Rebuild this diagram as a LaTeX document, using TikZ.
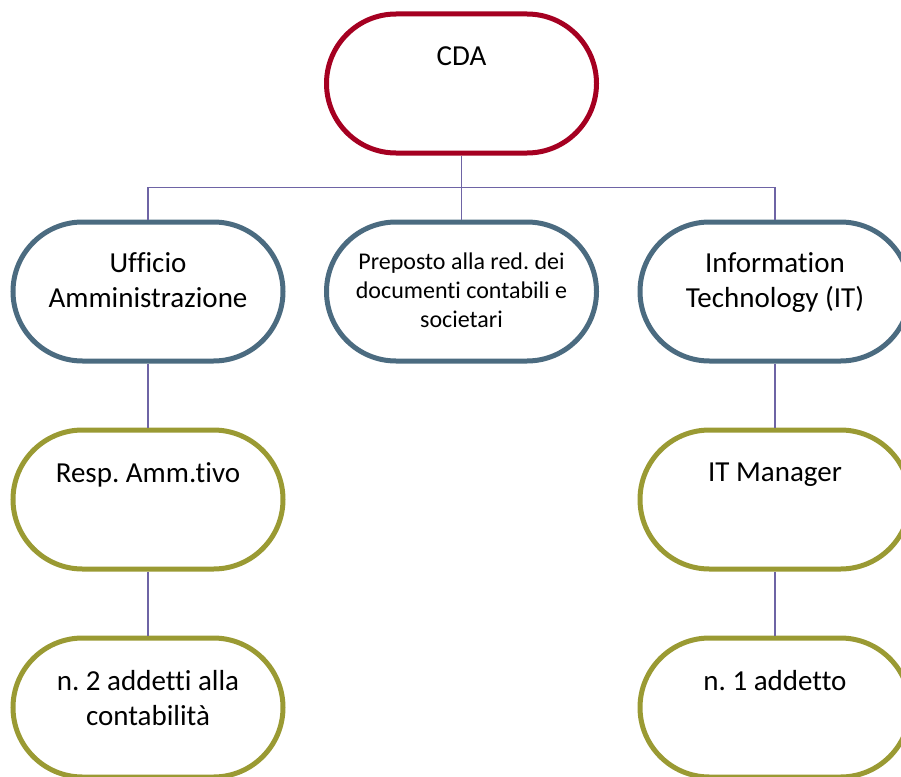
\documentclass[tikz,border=0pt]{standalone}
\usepackage{fontspec}
\setmainfont[Ligatures=NoCommon]{Carlito}
\frenchspacing
\usetikzlibrary{shapes.misc, positioning, calc}
\definecolor{cdared}{RGB}{165,0,33}
\definecolor{unitblue}{RGB}{75,107,128}
\definecolor{staffolive}{RGB}{154,154,51}
\definecolor{connviolet}{RGB}{110,100,165}
\tikzset{
  basebox/.style={rounded rectangle,line width=5pt,fill=white,minimum width=270pt,minimum height=139pt,inner sep=0pt},
  topbox/.style={basebox,draw=cdared},
  unitbox/.style={basebox,draw=unitblue},
  staffbox/.style={basebox,draw=staffolive},
  lbl/.style={anchor=north,inner sep=0pt,align=center,font=\fontsize{29}{35}\selectfont},
  smalllbl/.style={lbl,font=\fontsize{24}{29}\selectfont},
  conn/.style={line width=1.6pt,color=connviolet}
}
\begin{document}
\begin{tikzpicture}[x=1pt,y=1pt,node distance=64pt]
  \useasboundingbox (0,0) rectangle (901,-776);
  % boxes
  \node[topbox] (cda) at (461.5,-83.5) {};
  \node[unitbox,below=of cda] (mid) {};
  \node[unitbox,left=38.5pt of mid] (adm) {};
  \node[unitbox,right=38.5pt of mid] (it) {};
  \node[staffbox,below=of adm] (resp) {};
  \node[staffbox,below=of it] (itm) {};
  \node[staffbox,below=of resp] (contab) {};
  \node[staffbox,below=of itm] (addetto) {};

  % texts
  \node[lbl,below=35pt of cda.north] (cdatxt) {CDA};
  \node[lbl,below=33pt of adm.north] (admtxt) {Ufficio\\Amministrazione};
  \node[smalllbl,below=33pt of mid.north] (midtxt) {Preposto alla red. dei\\documenti contabili e\\societari};
  \node[lbl,below=33pt of it.north] (ittxt) {Information\\Technology (IT)};
  \node[lbl,below=35pt of resp.north] (resptxt) {Resp. Amm.tivo};
  \node[lbl,below=35pt of itm.north] (itmtxt) {IT Manager};
  \node[lbl,below=35pt of contab.north] (contabtxt) {n. 2 addetti alla\\contabilità};
  \node[lbl,below=35pt of addetto.north] (addettotxt) {n. 1 addetto};

  % connectors
  \coordinate (bus) at ($(cda.south)!.5!(mid.north)$);
  \draw[conn] (cda.south) -- (mid.north);
  \draw[conn] (adm.north) |- (bus) -| (it.north);
  \draw[conn] (adm) -- (resp);
  \draw[conn] (resp) -- (contab);
  \draw[conn] (it) -- (itm);
  \draw[conn] (itm) -- (addetto);
\end{tikzpicture}
\end{document}
